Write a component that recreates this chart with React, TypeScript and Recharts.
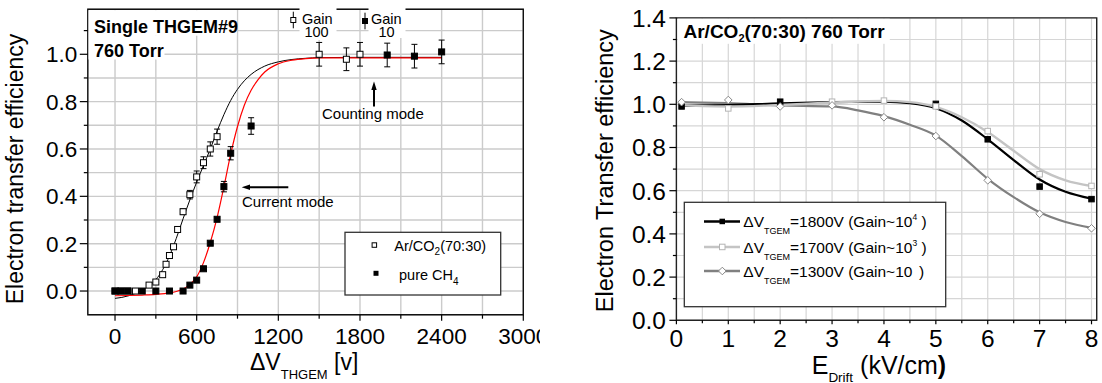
import React from 'react'
import {
  ComposedChart,
  Scatter,
  Line,
  XAxis,
  YAxis,
  CartesianGrid,
  ErrorBar,
  ReferenceArea,
} from 'recharts'

const FONT = '"Liberation Sans", Arial, Helvetica, sans-serif'

// ---- left panel: single THGEM, efficiency vs ΔV ----
const arCo2Points = [
  { x: 0, y: 0, err: 0 },
  { x: 45, y: 0, err: 0 },
  { x: 95, y: 0, err: 0 },
  { x: 150, y: 0, err: 0 },
  { x: 250, y: 0.025, err: 0 },
  { x: 300, y: 0.038, err: 0 },
  { x: 350, y: 0.069, err: 0 },
  { x: 375, y: 0.113, err: 0 },
  { x: 400, y: 0.15, err: 0 },
  { x: 430, y: 0.187, err: 0 },
  { x: 460, y: 0.26, err: 0 },
  { x: 500, y: 0.335, err: 0.012 },
  { x: 550, y: 0.407, err: 0.018 },
  { x: 600, y: 0.482, err: 0.025 },
  { x: 650, y: 0.542, err: 0.025 },
  { x: 700, y: 0.6, err: 0.03 },
  { x: 750, y: 0.652, err: 0.032 },
  { x: 1500, y: 1.0, err: 0.05 },
  { x: 1700, y: 0.979, err: 0.048 },
  { x: 1800, y: 1.0, err: 0.05 },
]

const ch4Points = [
  { x: 0, y: 0, err: 0 },
  { x: 45, y: 0, err: 0 },
  { x: 95, y: 0, err: 0 },
  { x: 200, y: 0, err: 0 },
  { x: 300, y: 0, err: 0 },
  { x: 400, y: 0, err: 0 },
  { x: 500, y: 0, err: 0 },
  { x: 550, y: 0.025, err: 0 },
  { x: 600, y: 0.046, err: 0 },
  { x: 650, y: 0.094, err: 0 },
  { x: 700, y: 0.202, err: 0 },
  { x: 750, y: 0.303, err: 0 },
  { x: 800, y: 0.441, err: 0.022 },
  { x: 850, y: 0.582, err: 0.028 },
  { x: 1000, y: 0.697, err: 0.035 },
  { x: 2000, y: 0.997, err: 0.05 },
  { x: 2200, y: 0.992, err: 0.05 },
  { x: 2400, y: 1.01, err: 0.05 },
]

// fit curves
const arCo2Fit = [
  { x: 0, y: -0.031 }, { x: 50, y: -0.027 }, { x: 100, y: -0.02 }, { x: 150, y: -0.01 },
  { x: 200, y: 0.003 }, { x: 250, y: 0.022 }, { x: 300, y: 0.048 }, { x: 350, y: 0.09 },
  { x: 400, y: 0.148 }, { x: 450, y: 0.222 }, { x: 500, y: 0.305 }, { x: 550, y: 0.385 },
  { x: 600, y: 0.46 }, { x: 650, y: 0.53 }, { x: 700, y: 0.6 }, { x: 750, y: 0.675 },
  { x: 800, y: 0.745 }, { x: 850, y: 0.805 }, { x: 900, y: 0.852 }, { x: 950, y: 0.888 },
  { x: 1000, y: 0.915 }, { x: 1100, y: 0.95 }, { x: 1200, y: 0.968 }, { x: 1300, y: 0.978 },
  { x: 1400, y: 0.983 }, { x: 1500, y: 0.986 }, { x: 1800, y: 0.987 }, { x: 2100, y: 0.987 },
  { x: 2400, y: 0.987 },
]

const ch4Fit = [
  { x: 0, y: -0.02 }, { x: 100, y: -0.019 }, { x: 200, y: -0.017 }, { x: 300, y: -0.014 },
  { x: 400, y: -0.008 }, { x: 450, y: -0.002 }, { x: 500, y: 0.008 }, { x: 550, y: 0.028 },
  { x: 600, y: 0.06 }, { x: 650, y: 0.12 }, { x: 700, y: 0.205 }, { x: 750, y: 0.31 },
  { x: 800, y: 0.44 }, { x: 850, y: 0.578 }, { x: 900, y: 0.695 }, { x: 950, y: 0.785 },
  { x: 1000, y: 0.848 }, { x: 1050, y: 0.892 }, { x: 1100, y: 0.925 }, { x: 1200, y: 0.96 },
  { x: 1300, y: 0.975 }, { x: 1400, y: 0.982 }, { x: 1500, y: 0.985 }, { x: 1800, y: 0.985 },
  { x: 2100, y: 0.985 }, { x: 2400, y: 0.985 },
]

const leftXTicks = [0, 300, 600, 900, 1200, 1500, 1800, 2100, 2400, 2700, 3000]
const leftXLabels = [0, 600, 1200, 1800, 2400, 3000]
const leftYTicks = [0, 0.1, 0.2, 0.3, 0.4, 0.5, 0.6, 0.7, 0.8, 0.9, 1.0, 1.1]
const leftYLabels = [0, 0.2, 0.4, 0.6, 0.8, 1.0]

// ---- right panel: efficiency vs drift field ----
const pts1800 = [
  { x: 0.1, y: 0.99 }, { x: 2, y: 1.012 }, { x: 5, y: 1.002 },
  { x: 6, y: 0.838 }, { x: 7, y: 0.619 }, { x: 8, y: 0.561 },
]
const pts1700 = [
  { x: 1, y: 0.981 }, { x: 3, y: 1.012 }, { x: 4, y: 1.017 }, { x: 5, y: 0.99 },
  { x: 6, y: 0.876 }, { x: 7, y: 0.676 }, { x: 8, y: 0.622 },
]
const pts1300 = [
  { x: 0.1, y: 1.01 }, { x: 1, y: 1.02 }, { x: 2, y: 0.99 }, { x: 3, y: 0.995 },
  { x: 4, y: 0.94 }, { x: 5, y: 0.853 }, { x: 6, y: 0.648 }, { x: 7, y: 0.493 }, { x: 8, y: 0.426 },
]

const fit1800 = [
  { x: 0.1, y: 0.993 }, { x: 1, y: 0.996 }, { x: 2, y: 1.004 }, { x: 3, y: 1.01 },
  { x: 4, y: 1.012 }, { x: 4.5, y: 1.005 }, { x: 5, y: 0.982 }, { x: 5.5, y: 0.925 },
  { x: 6, y: 0.838 }, { x: 6.5, y: 0.742 }, { x: 7, y: 0.652 }, { x: 7.5, y: 0.595 }, { x: 8, y: 0.563 },
]
const fit1700 = [
  { x: 0.1, y: 0.995 }, { x: 1, y: 0.99 }, { x: 2, y: 0.997 }, { x: 3, y: 1.008 },
  { x: 4, y: 1.016 }, { x: 4.5, y: 1.01 }, { x: 5, y: 0.988 }, { x: 5.5, y: 0.94 },
  { x: 6, y: 0.872 }, { x: 6.5, y: 0.785 }, { x: 7, y: 0.7 }, { x: 7.5, y: 0.648 }, { x: 8, y: 0.622 },
]
const fit1300 = [
  { x: 0.1, y: 1.01 }, { x: 1, y: 1.005 }, { x: 2, y: 0.995 }, { x: 3, y: 0.99 },
  { x: 3.5, y: 0.972 }, { x: 4, y: 0.945 }, { x: 4.5, y: 0.905 }, { x: 5, y: 0.855 },
  { x: 5.5, y: 0.76 }, { x: 6, y: 0.655 }, { x: 6.5, y: 0.57 }, { x: 7, y: 0.5 },
  { x: 7.5, y: 0.455 }, { x: 8, y: 0.428 },
]

const rightXTicks = [0, 0.5, 1, 1.5, 2, 2.5, 3, 3.5, 4, 4.5, 5, 5.5, 6, 6.5, 7, 7.5, 8]
const rightXLabels = [0, 1, 2, 3, 4, 5, 6, 7, 8]
const rightYTicks = [0, 0.1, 0.2, 0.3, 0.4, 0.5, 0.6, 0.7, 0.8, 0.9, 1.0, 1.1, 1.2, 1.3, 1.4]
const rightYLabels = [0, 0.2, 0.4, 0.6, 0.8, 1.0, 1.2, 1.4]

// axis ticks drawn by hand so minor ticks can be shorter and unlabelled
function BottomTick(props: any) {
  const { x, y, payload, labels, fontSize, major, minor, gap, fmt } = props
  const v = payload.value
  const isMajor = labels.includes(v)
  return (
    <g>
      <line x1={x} x2={x} y1={y} y2={y + (isMajor ? major : minor)} stroke="#000" strokeWidth={1.2} />
      {isMajor && (
        <text x={x} y={y + gap} textAnchor="middle" fontSize={fontSize} fontFamily={FONT} fill="#000">
          {fmt(v)}
        </text>
      )}
    </g>
  )
}

function LeftTick(props: any) {
  const { x, y, payload, labels, fontSize, major, minor, gap } = props
  const v = payload.value
  const isMajor = labels.includes(v)
  return (
    <g>
      <line x1={x - (isMajor ? major : minor)} x2={x} y1={y} y2={y} stroke="#000" strokeWidth={1.2} />
      {isMajor && (
        <text x={x - gap} y={y + fontSize * 0.36} textAnchor="end" fontSize={fontSize} fontFamily={FONT} fill="#000">
          {v.toFixed(1)}
        </text>
      )}
    </g>
  )
}

const squareShape = (size: number, fill: string, stroke: string) => (p: any) => (
  <rect x={p.cx - size / 2} y={p.cy - size / 2} width={size} height={size} fill={fill} stroke={stroke} strokeWidth={1} />
)

const diamondShape = (r: number, stroke: string) => (p: any) => (
  <polygon
    points={`${p.cx},${p.cy - r} ${p.cx + r},${p.cy} ${p.cx},${p.cy + r} ${p.cx - r},${p.cy}`}
    fill="#fff"
    stroke={stroke}
    strokeWidth={1}
  />
)

function LeftPanel() {
  return (
    <div style={{ position: 'absolute', left: 0, top: 0, width: 540, height: 383, overflow: 'hidden' }}>
      <ComposedChart width={560} height={383} margin={{ top: 9.3, right: 36.7, bottom: 0, left: 0 }} style={{ fontFamily: FONT }}>
        <CartesianGrid stroke="#cbcbcb" strokeWidth={1.4} />
        <XAxis
          dataKey="x"
          type="number"
          domain={[-200, 3000]}
          allowDataOverflow
          ticks={leftXTicks}
          interval={0}
          height={68.3}
          axisLine={false}
          tickLine={false}
          tickSize={0}
          tickMargin={0}
          tick={(p: any) => (
            <BottomTick {...p} labels={leftXLabels} fontSize={22.5} major={6} minor={4} gap={29} fmt={String} />
          )}
        />
        <YAxis
          type="number"
          domain={[-0.1, 1.19]}
          allowDataOverflow
          ticks={leftYTicks}
          interval={0}
          width={87.8}
          axisLine={false}
          tickLine={false}
          tickSize={0}
          tickMargin={0}
          tick={(p: any) => <LeftTick {...p} labels={leftYLabels} fontSize={22.5} major={8} minor={4} gap={10.5} />}
        />
        <ReferenceArea x1={-200} x2={3000} y1={-0.1} y2={1.19} fill="none" stroke="#111" strokeWidth={1.4} ifOverflow="visible" />
        <Line data={arCo2Fit} dataKey="y" type="monotone" stroke="#000" strokeWidth={1} dot={false} isAnimationActive={false} />
        <Line data={ch4Fit} dataKey="y" type="monotone" stroke="#ff0000" strokeWidth={1.2} dot={false} isAnimationActive={false} />
        <Scatter data={arCo2Points} dataKey="y" shape={squareShape(6, '#fff', '#000')} isAnimationActive={false}>
          <ErrorBar dataKey="err" direction="y" width={3} stroke="#000" strokeWidth={1} />
        </Scatter>
        <Scatter data={ch4Points} dataKey="y" shape={squareShape(6, '#000', '#000')} isAnimationActive={false}>
          <ErrorBar dataKey="err" direction="y" width={3} stroke="#000" strokeWidth={1} />
        </Scatter>
      </ComposedChart>
    </div>
  )
}

function RightPanel() {
  return (
    <div style={{ position: 'absolute', left: 560, top: 0, width: 542, height: 383 }}>
      <ComposedChart width={542} height={383} margin={{ top: 17.9, right: 5.3, bottom: 0, left: 0 }} style={{ fontFamily: FONT }}>
        <CartesianGrid stroke="#d6d6d6" strokeWidth={1.2} />
        <XAxis
          dataKey="x"
          type="number"
          domain={[0, 8.1]}
          allowDataOverflow
          ticks={rightXTicks}
          interval={0}
          height={62.7}
          axisLine={false}
          tickLine={false}
          tickSize={0}
          tickMargin={0}
          tick={(p: any) => (
            <BottomTick {...p} labels={rightXLabels} fontSize={24.5} major={4} minor={3} gap={26.2} fmt={String} />
          )}
        />
        <YAxis
          type="number"
          domain={[0, 1.4]}
          allowDataOverflow
          ticks={rightYTicks}
          interval={0}
          width={116.4}
          axisLine={false}
          tickLine={false}
          tickSize={0}
          tickMargin={0}
          tick={(p: any) => <LeftTick {...p} labels={rightYLabels} fontSize={24.5} major={7} minor={3.5} gap={10.4} />}
        />
        <ReferenceArea x1={0} x2={8.1} y1={0} y2={1.4} fill="none" stroke="#222" strokeWidth={1.4} ifOverflow="visible" />
        <Line data={fit1300} dataKey="y" type="monotone" stroke="#808080" strokeWidth={2.2} dot={false} isAnimationActive={false} />
        <Line data={fit1800} dataKey="y" type="monotone" stroke="#000" strokeWidth={2.2} dot={false} isAnimationActive={false} />
        <Line data={fit1700} dataKey="y" type="monotone" stroke="#c4c4c4" strokeWidth={2.4} dot={false} isAnimationActive={false} />
        <Scatter data={pts1800} dataKey="y" shape={squareShape(5.5, '#000', '#000')} isAnimationActive={false} />
        <Scatter data={pts1700} dataKey="y" shape={squareShape(5.5, '#fff', '#b4b4b4')} isAnimationActive={false} />
        <Scatter data={pts1300} dataKey="y" shape={diamondShape(3.8, '#888')} isAnimationActive={false} />
      </ComposedChart>
    </div>
  )
}

function Overlay() {
  const t = { fontFamily: FONT, fill: '#000' }
  return (
    <svg width={1102} height={383} style={{ position: 'absolute', left: 0, top: 0, pointerEvents: 'none' }}>
      {/* left panel labels */}
      <rect x={88.5} y={10.2} width={148} height={25.5} fill="#fff" />
      <rect x={88.5} y={35.5} width={76} height={24} fill="#fff" />
      <text x={94} y={33} fontSize={18} fontWeight="bold" {...t}>Single THGEM#9</text>
      <text x={94} y={56.5} fontSize={18} fontWeight="bold" {...t}>760 Torr</text>

      <rect x={299.5} y={3} width={37} height={37} fill="#fff" />
      <line x1={293.3} x2={293.3} y1={11.7} y2={28.3} stroke="#000" strokeWidth={1} />
      <rect x={290.8} y={17.5} width={5} height={5} fill="#fff" stroke="#000" strokeWidth={1} />
      <text x={302} y={23.5} fontSize={14.5} {...t}>Gain</text>
      <text x={316.5} y={36.5} fontSize={14.5} textAnchor="middle" {...t}>100</text>

      <rect x={368.5} y={3} width={37} height={35} fill="#fff" />
      <line x1={365} x2={365} y1={12.7} y2={29.3} stroke="#000" strokeWidth={1} />
      <rect x={362.5} y={18.5} width={5} height={5} fill="#000" stroke="#000" strokeWidth={1} />
      <text x={371} y={23.5} fontSize={14.5} {...t}>Gain</text>
      <text x={386.5} y={36.5} fontSize={14.5} textAnchor="middle" {...t}>10</text>

      <text x={322} y={119} fontSize={15} {...t}>Counting mode</text>
      <line x1={374} x2={374} y1={106.5} y2={88} stroke="#000" strokeWidth={2} />
      <polygon points="374,81.5 371.3,90 376.7,90" fill="#000" />

      <text x={242} y={206.5} fontSize={15} {...t}>Current mode</text>
      <line x1={288.3} x2={248} y1={187.3} y2={187.3} stroke="#000" strokeWidth={2} />
      <polygon points="241.7,187.3 250,184.6 250,190" fill="#000" />

      <rect x={345} y={232.3} width={155.7} height={62.7} fill="#fff" stroke="#333" strokeWidth={1.3} />
      <rect x={372.1} y={242.8} width={4.5} height={4.5} fill="#fff" stroke="#000" strokeWidth={1} />
      <text x={394.3} y={250.7} fontSize={14.5} {...t}>
        Ar/CO<tspan fontSize={10} dy={4}>2</tspan>
        <tspan dy={-4}>(70:30)</tspan>
      </text>
      <rect x={373.5} y={270.8} width={5} height={5} fill="#000" />
      <text x={399} y={279.5} fontSize={14.5} {...t}>
        pure CH<tspan fontSize={10} dy={5}>4</tspan>
      </text>

      <text x={23} y={169} fontSize={23} textAnchor="middle" transform="rotate(-90 23 169)" {...t}>
        Electron transfer efficiency
      </text>
      <text x={250} y={370} fontSize={23} {...t}>
        ΔV<tspan fontSize={13} dy={8.5}>THGEM</tspan>
        <tspan dy={-8.5}> [v]</tspan>
      </text>

      {/* right panel labels */}
      <rect x={677.8} y={18.8} width={212} height={25} fill="#fff" />
      <text x={683.5} y={38} fontSize={19} fontWeight="bold" {...t}>
        Ar/CO<tspan fontSize={11} dy={4}>2</tspan>
        <tspan dy={-4}>(70:30) 760 Torr</tspan>
      </text>

      <rect x={684.3} y={202.3} width={261.4} height={104.4} fill="#fff" stroke="#333" strokeWidth={1.3} />
      <line x1={704} x2={740} y1={221.5} y2={221.5} stroke="#000" strokeWidth={2.5} />
      <rect x={719.5} y={218.7} width={5.5} height={5.5} fill="#000" />
      <line x1={704} x2={740} y1={247} y2={247} stroke="#c4c4c4" strokeWidth={2.5} />
      <rect x={719.5} y={244.2} width={5.5} height={5.5} fill="#fff" stroke="#b4b4b4" strokeWidth={1} />
      <line x1={704} x2={740} y1={271} y2={271} stroke="#808080" strokeWidth={2.5} />
      <polygon points="722.3,267.2 726.1,271 722.3,274.8 718.5,271" fill="#fff" stroke="#888" strokeWidth={1} />

      {[
        { y: 227, v: '1800', g: '10', s: '4' },
        { y: 252.5, v: '1700', g: '10', s: '3' },
        { y: 276.5, v: '1300', g: '10', s: '' },
      ].map((r) => (
        <text key={r.v} x={743.3} y={r.y} fontSize={15.5} {...t}>
          ΔV<tspan fontSize={9} dy={7}>TGEM</tspan>
          <tspan dy={-7}>{`=${r.v}V (Gain~${r.g}`}</tspan>
          <tspan fontSize={8.5} dy={-6.6}>{r.s === '' ? '\u00a0' : r.s}</tspan>
          <tspan dy={6.6}>{' )'}</tspan>
        </text>
      ))}

      <text x={613} y={170.7} fontSize={23.5} textAnchor="middle" transform="rotate(-90 613 170.7)" {...t}>
        Electron Transfer efficiency
      </text>
      <text x={811.7} y={373.5} fontSize={25} {...t}>
        E<tspan fontSize={13.5} dy={8}>Drift</tspan>
        <tspan dy={-8}> (kV/cm</tspan>
        <tspan fontWeight="bold">)</tspan>
      </text>
    </svg>
  )
}

export default function App() {
  return (
    <div style={{ position: 'absolute', left: 0, top: 0, width: 1102, height: 383, background: '#fff', fontFamily: FONT }}>
      <LeftPanel />
      <RightPanel />
      <Overlay />
    </div>
  )
}
